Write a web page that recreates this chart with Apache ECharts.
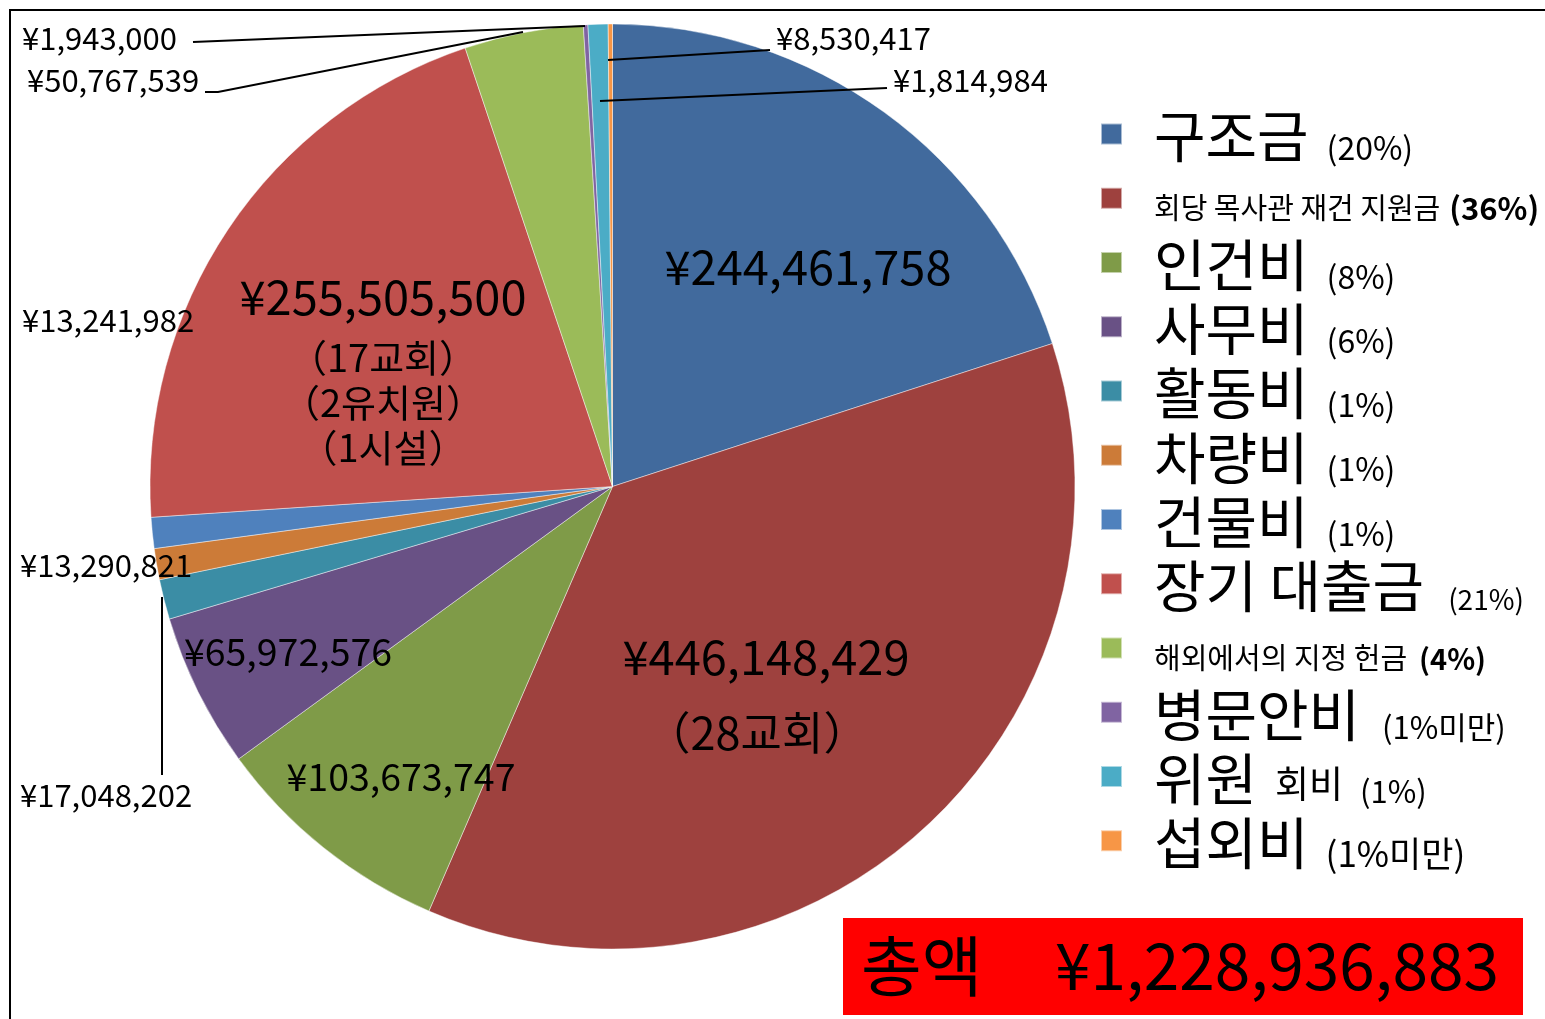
<!DOCTYPE html>
<html><head><meta charset="utf-8">
<script src="https://cdn.jsdelivr.net/npm/echarts@6.0.0/dist/echarts.min.js"></script>
<style>html,body{margin:0;padding:0;background:#fff}#c{width:1545px;height:1019px}</style>
</head><body><div id="c"></div>
<script>
// ---- data ----
const categories = ['구조금','회당 목사관 재건 지원금','인건비','사무비','활동비','차량비','건물비','장기 대출금','해외에서의 지정 헌금','병문안비','위원 회비','섭외비'];
const amounts = [244461758,446148429,103673747,65972576,17048202,13290821,13241982,255505500,50767539,1943000,8530417,1814984];
const legendShares = ['(20%)','(36%)','(8%)','(6%)','(1%)','(1%)','(1%)','(21%)','(4%)','(1%미만)','(1%)','(1%미만)'];
const sliceNotes = [[],['（28교회）'],[],[],[],[],[],['（17교회）','（2유치원）','（1시설）'],[],[],[],[]];
const totalTitle = '총액';
const totalAmount = '¥1,228,936,883';

// ---- styling / layout ----
const F = '"Noto Sans CJK KR", "Noto Sans", sans-serif';
const colors = ['#416A9D','#9E413E','#7F9B48','#695185','#3B8DA5','#CC7B38','#4F81BD','#C0504D','#9BBB59','#8064A2','#4BACC6','#F79646'];
const legendStyles = [
  ['big','pct'],['sml','pctB'],['big','pct'],['big','pct'],['big','pct'],['big','pct'],
  ['big','pct'],['big','pct28'],['sml','pctB4'],['big','pct29'],['big','mid','pct31'],['big','pct34']
];
const labelSpots = {
  0:{x:808,y:267,a:'center'},1:{x:766,y:695,a:'center'},2:{x:401,y:777,a:'center'},3:{x:288,y:652,a:'center'},
  4:{x:20,y:795,a:'left'},5:{x:20,y:565,a:'left'},6:{x:22,y:320,a:'left'},7:{x:383,y:365,a:'center'},
  8:{x:27,y:80,a:'left'},9:{x:22,y:38,a:'left'},10:{x:776,y:38,a:'left'},11:{x:893,y:80,a:'left'}
};
// leader lines (label guide annotations), drawn above the slices
const leaderPaths = [
  [[162,597],[162,775]],
  [[523,32],[218,92],[205,92]],
  [[585,26],[193,42]],
  [[608,60],[770,50]],
  [[600,101],[887,88]]
];
const valueStyle = i => (i===0||i===1||i===7) ? 'v46' : (i===2||i===3) ? 'v38' : 's31';

function money(v){ return '¥' + v.toLocaleString('en-US'); }

const chart = echarts.init(document.getElementById('c'), null, {renderer:'canvas'});
const pieData = categories.map((n,i)=>({
  name:n, value:amounts[i],
  itemStyle:{color:colors[i]}
}));

const graphics = [
  {type:'rect', shape:{x:10,y:10,width:1600,height:1100}, style:{fill:'none',stroke:'#000',lineWidth:2}, silent:true, z:0},
  {type:'rect', shape:{x:843,y:918,width:680,height:97}, style:{fill:'#FF0000'}, z:10},
  {type:'text', x:861, y:966, z:11, style:{text:totalTitle, fontFamily:F, fontSize:66, fill:'#000', align:'left', verticalAlign:'middle'}},
  {type:'text', x:1055, y:966, z:11, style:{text:totalAmount, fontFamily:F, fontSize:64, fill:'#000', align:'left', verticalAlign:'middle'}}
];
leaderPaths.forEach(pts => graphics.push({
  type:'polyline', z:50, silent:true, shape:{points:pts}, style:{stroke:'#000', lineWidth:2, fill:null}
}));

const option = {
  backgroundColor:'#fff',
  animation:false,
  legend:{
    orient:'vertical', left:1100, top:104, padding:0,
    itemWidth:21, itemHeight:21, itemGap:4.25, icon:'rect', selectedMode:false,
    data: categories,
    formatter: function(name){
      const i = categories.indexOf(name);
      const st = legendStyles[i];
      if (st.length === 3) {
        const parts = name.split(' ');
        return '{'+st[0]+'|'+parts[0]+'}{'+st[1]+'|'+parts[1]+'}{'+st[2]+'|'+legendShares[i]+'}';
      }
      return '{'+st[0]+'|'+name+'}{'+st[1]+'|'+legendShares[i]+'}';
    },
    textStyle:{
      fontFamily:F, color:'#000', lineHeight:60,
      rich:{
        big:{fontFamily:F,fontSize:56,color:'#000',verticalAlign:'bottom',lineHeight:60,padding:[0,0,0,27]},
        sml:{fontFamily:F,fontSize:29,color:'#000',verticalAlign:'bottom',lineHeight:60,padding:[0,0,6,27]},
        pct:{fontFamily:F,fontSize:32,color:'#000',verticalAlign:'bottom',padding:[0,0,0,18]},
        pctB:{fontFamily:F,fontSize:31,fontWeight:'bold',color:'#000',verticalAlign:'bottom',padding:[0,0,5,9]},
        pctB4:{fontFamily:F,fontSize:29,fontWeight:'bold',color:'#000',verticalAlign:'bottom',padding:[0,0,5,12]},
        pct28:{fontFamily:F,fontSize:28,color:'#000',verticalAlign:'bottom',padding:[0,0,0,24]},
        pct29:{fontFamily:F,fontSize:31,color:'#000',verticalAlign:'bottom',padding:[0,0,0,22]},
        mid:{fontFamily:F,fontSize:37,color:'#000',verticalAlign:'bottom',padding:[0,0,4,18]},
        pct31:{fontFamily:F,fontSize:31,color:'#000',verticalAlign:'bottom',padding:[0,0,0,17]},
        pct34:{fontFamily:F,fontSize:35,color:'#000',verticalAlign:'bottom',padding:[0,0,0,17]}
      }
    }
  },
  series:[{
    type:'pie',
    center:[612.5,486.5], radius:462.5,
    startAngle:90, clockwise:true,
    avoidLabelOverlap:false,
    emphasis:{disabled:true},
    itemStyle:{borderColor:'rgba(255,255,255,0.55)',borderWidth:0.8},
    label:{
      show:true, position:'outside', color:'#000', fontFamily:F,
      formatter: function(p){
        const i = p.dataIndex;
        let s = '{'+valueStyle(i)+'|'+money(p.value)+'}';
        const notes = sliceNotes[i];
        const ns = i===1 ? 'n40' : 'n37';
        notes.forEach(t=>{ s += '\n{'+ns+'|'+t+'}'; });
        return s;
      },
      rich:{
        v46:{fontFamily:F,fontSize:47,color:'#000',lineHeight:76,align:'center'},
        v38:{fontFamily:F,fontSize:37.5,color:'#000'},
        s31:{fontFamily:F,fontSize:31,color:'#000'},
        n40:{fontFamily:F,fontSize:45,color:'#000',lineHeight:76,align:'center',padding:[0,18,0,0]},
        n37:{fontFamily:F,fontSize:38,color:'#000',lineHeight:45,align:'center'}
      }
    },
    labelLine:{show:false},
    labelLayout: function(params){
      const s = labelSpots[params.dataIndex];
      return {x:s.x, y:s.y, align:s.a, verticalAlign:'middle'};
    },
    data: pieData
  }],
  graphic: graphics
};
chart.setOption(option);
</script>
</body></html>
